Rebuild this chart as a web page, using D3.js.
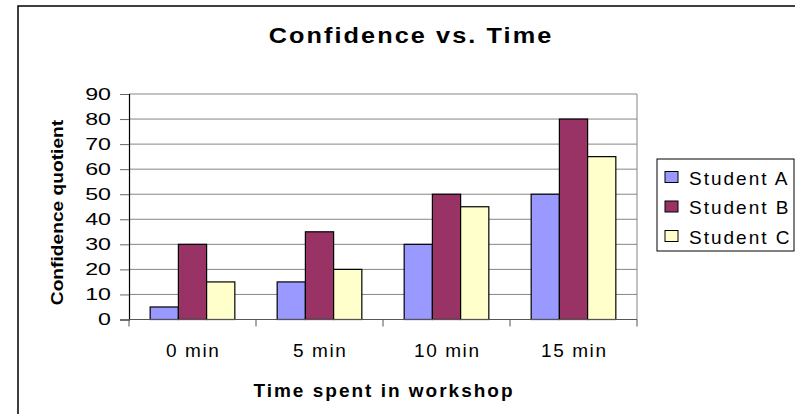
<!DOCTYPE html>
<html>
<head>
<meta charset="utf-8">
<title>Confidence vs. Time</title>
<script src="https://d3js.org/d3.v7.min.js"></script>
<style>
    body { margin: 0; background: #fff; }
    svg { display: block; }
    text { font-family: Arial, "Liberation Sans", sans-serif; fill: #000; }
</style>
</head>
<body>
<div id="chart"></div>
<script>
// chart data
const categories = ["0 min", "5 min", "10 min", "15 min"];
const seriesNames = ["Student A", "Student B", "Student C"];
const studentA = [5, 15, 30, 50];
const studentB = [30, 35, 50, 80];
const studentC = [15, 20, 45, 65];
const yTicks = [0, 10, 20, 30, 40, 50, 60, 70, 80, 90];
const colors = ["#9999FF", "#993366", "#FFFFCC"];

const seriesValues = [studentA, studentB, studentC];

const W = 795, H = 414;
const plot = { left: 129, right: 637, top: 94, bottom: 319.5 };

const svg = d3.select("#chart").append("svg")
    .attr("width", W)
    .attr("height", H);

// outer chart border (only left/top visible in the picture)
svg.append("rect")
    .attr("x", 18).attr("y", 6)
    .attr("width", 800).attr("height", 420)
    .attr("fill", "none")
    .attr("stroke", "#000")
    .attr("stroke-width", 1.5);

// scales
const x0 = d3.scaleBand()
    .domain(categories)
    .range([plot.left, plot.right]);

const x1 = d3.scaleBand()
    .domain(seriesNames)
    .range([0, x0.bandwidth()])
    .paddingInner(0)
    .paddingOuter(0.75);

const y = d3.scaleLinear()
    .domain([0, 90])
    .range([plot.bottom, plot.top]);

// gridlines
svg.append("g")
    .selectAll("line")
    .data(yTicks.slice(1))
    .join("line")
    .attr("x1", plot.left).attr("x2", plot.right)
    .attr("y1", d => y(d)).attr("y2", d => y(d))
    .attr("stroke", "#858585")
    .attr("stroke-width", 1);

// right border of plot area
svg.append("line")
    .attr("x1", plot.right).attr("x2", plot.right)
    .attr("y1", plot.top).attr("y2", plot.bottom)
    .attr("stroke", "#858585");

// bars
const groups = svg.append("g")
    .selectAll("g")
    .data(seriesNames)
    .join("g")
    .attr("fill", (d, i) => colors[i]);

groups.selectAll("rect")
    .data((name, i) => categories.map((c, j) => ({ cat: c, name: name, value: seriesValues[i][j] })))
    .join("rect")
    .attr("x", d => x0(d.cat) + x1(d.name))
    .attr("y", d => y(d.value))
    .attr("width", x1.bandwidth())
    .attr("height", d => y(0) - y(d.value))
    .attr("stroke", "#000")
    .attr("stroke-width", 1.2);

// y axis
const yAxis = svg.append("g")
    .attr("transform", "translate(" + plot.left + ",0)")
    .call(d3.axisLeft(y).tickValues(yTicks).tickSize(9).tickPadding(0));
yAxis.select(".domain").attr("stroke", "#000").attr("stroke-width", 1.2);
yAxis.selectAll(".tick line").attr("stroke", "#666");
// Excel-style wide digits: stretch labels horizontally
yAxis.selectAll(".tick text")
    .attr("font-family", null)
    .style("font-size", "16px")
    .attr("x", null)
    .attr("transform", "translate(-18,0) scale(1.45,1)");

// x axis
const xAxis = svg.append("g")
    .attr("transform", "translate(0," + plot.bottom + ")");
xAxis.append("line")
    .attr("x1", plot.left).attr("x2", plot.right)
    .attr("stroke", "#555").attr("stroke-width", 1.2);
xAxis.selectAll(".cat-tick")
    .data(categories.concat(["end"]))
    .join("line")
    .attr("class", "cat-tick")
    .attr("x1", (d, i) => i < categories.length ? x0(d) : plot.right)
    .attr("x2", (d, i) => i < categories.length ? x0(d) : plot.right)
    .attr("y1", 0).attr("y2", 7)
    .attr("stroke", "#555");
xAxis.selectAll(".cat-label")
    .data(categories)
    .join("text")
    .attr("class", "cat-label")
    .attr("text-anchor", "middle")
    .attr("x", d => x0(d) + x0.bandwidth() / 2 + 0.8)
    .attr("y", 37.5)
    .style("font-size", "19px")
    .style("letter-spacing", "1.6px")
    .text(d => d);

// titles
svg.append("text")
    .attr("transform", "translate(411,42.5) scale(1.15,1)")
    .attr("text-anchor", "middle")
    .style("font-size", "22px")
    .style("font-weight", "bold")
    .style("letter-spacing", "1.8px")
    .text("Confidence vs. Time");

svg.append("text")
    .attr("x", 384).attr("y", 397)
    .attr("text-anchor", "middle")
    .style("font-size", "19px")
    .style("font-weight", "bold")
    .style("letter-spacing", "2px")
    .text("Time spent in workshop");

svg.append("text")
    .attr("transform", "translate(63,212.5) rotate(-90) scale(1.2,1)")
    .attr("text-anchor", "middle")
    .style("font-size", "16px")
    .style("font-weight", "bold")
    .text("Confidence quotient");

// legend
const legend = svg.append("g").attr("transform", "translate(657,159)");
legend.append("rect")
    .attr("width", 137).attr("height", 92)
    .attr("fill", "#fff")
    .attr("stroke", "#000");
const legendY = d3.scalePoint()
    .domain(seriesNames)
    .range([18.5, 77.5]);
const items = legend.selectAll(".item")
    .data(seriesNames)
    .join("g")
    .attr("class", "item")
    .attr("transform", d => "translate(0," + legendY(d) + ")");
items.append("rect")
    .attr("x", 8).attr("y", -6)
    .attr("width", 13).attr("height", 11)
    .attr("fill", (d, i) => colors[i])
    .attr("stroke", "#000");
items.append("text")
    .attr("x", 32).attr("y", 7)
    .style("font-size", "19px")
    .style("letter-spacing", "2px")
    .text(d => d);
</script>
</body>
</html>
